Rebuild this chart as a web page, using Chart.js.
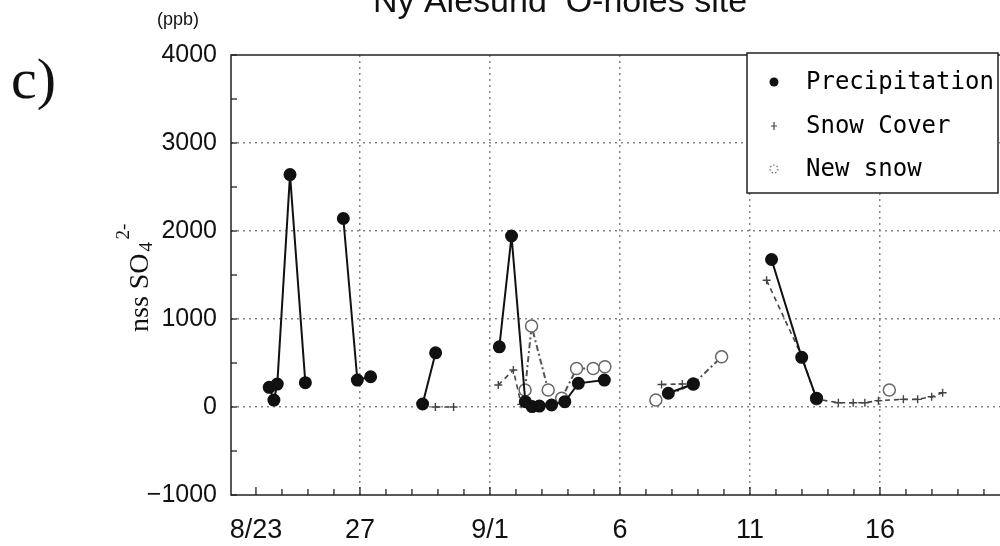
<!DOCTYPE html>
<html><head><meta charset="utf-8">
<script src="https://cdn.jsdelivr.net/npm/chart.js@4"></script>
<style>
html,body{margin:0;padding:0;background:#fff;overflow:hidden;width:1000px;height:546px}
#wrap{position:absolute;left:0;top:0;width:1040px;height:546px}
</style></head><body>
<div id="wrap"><canvas id="c" width="1040" height="546"></canvas></div>
<script>
// Day index: 0 = Aug 23
const tickDays   = [0, 4, 9, 14, 19, 24];
const tickLabels = ['8/23', '27', '9/1', '6', '11', '16'];
const yTicks     = [-1000, 0, 1000, 2000, 3000, 4000];
const seriesNames = ['Precipitation', 'Snow Cover', 'New snow'];

// null entries break the line between sampling periods
const precipDays   = [0.51, 0.69, 0.82, 1.31, 1.90, 2.5, 3.36, 3.90, 4.41, 5.5, 6.41, 6.91, 8.0, 9.36, 9.83, 10.36, 10.62, 10.90, 11.37, 11.88, 12.40, 13.40, 14.5, 15.86, 16.82, 18.5, 19.83, 20.99, 21.56];
const precipValues = [224, 79, 261, 2641, 276, null, 2142, 306, 344, null, 34, 616, null, 684, 1943, 60, 5, 11, 23, 60, 269, 306, null, 156, 261, null, 1676, 564, 99];

const snowDays   = [6.90, 7.60, 8.5, 9.32, 9.90, 10.20, 12.0, 15.60, 16.40, 18.0, 19.64, 20.99, 21.56, 22.40, 22.97, 23.42, 23.94, 24.90, 25.45, 25.99, 26.41];
const snowValues = [0, 0, null, 250, 420, 30, null, 255, 262, null, 1440, 580, 90, 49, 49, 49, 72, 87, 87, 117, 162];

const newDays   = [10.35, 10.60, 11.24, 11.76, 12.33, 12.97, 13.42, 14.5, 15.38, 16.82, 17.91, 19.0, 21.56, 23.0, 24.36];
const newValues = [193, 920, 193, 99, 437, 437, 457, null, 79, 261, 570, null, 95, null, 193];

const toXY = (xs, ys) => xs.map((d, i) => ({x: d, y: ys[i]}));

const fmtY = v => v < 0 ? '\u2212' + Math.abs(v) : String(v);

const framePlugin = {
  id: 'frame',
  afterDatasetsDraw(chart) {
    const {ctx, chartArea: a, scales: {x, y}} = chart;
    ctx.save();
    ctx.strokeStyle = '#222';
    ctx.lineWidth = 1.5;
    ctx.beginPath();
    ctx.moveTo(a.left, a.top); ctx.lineTo(a.right, a.top);
    ctx.lineTo(a.right, a.bottom); ctx.lineTo(a.left, a.bottom); ctx.closePath();
    ctx.stroke();
    ctx.lineWidth = 1.3;
    for (let d = Math.ceil(x.min); d <= x.max; d++) {
      const px = x.getPixelForValue(d);
      const len = tickDays.includes(d) ? 8 : 6;
      ctx.beginPath(); ctx.moveTo(px, a.bottom); ctx.lineTo(px, a.bottom - len); ctx.stroke();
    }
    for (let v = y.min; v <= y.max; v += 500) {
      const py = y.getPixelForValue(v);
      ctx.beginPath(); ctx.moveTo(a.left, py); ctx.lineTo(a.left + 6, py); ctx.stroke();
    }
    ctx.restore();
  }
};

const textPlugin = {
  id: 'texts',
  afterDraw(chart) {
    const {ctx} = chart;
    ctx.save();
    ctx.fillStyle = '#111';
    // cut-off title
    ctx.font = '34px "Liberation Sans", Arial, sans-serif';
    ctx.textAlign = 'center'; ctx.textBaseline = 'alphabetic';
    ctx.fillText('Ny Alesund  O-holes site', 560, 12);
    // unit
    ctx.font = '18px "Liberation Sans", Arial, sans-serif';
    ctx.textAlign = 'left';
    ctx.fillText('(ppb)', 157, 25);
    // panel letter
    ctx.font = '58px "Liberation Serif", "Times New Roman", serif';
    ctx.fillText('c)', 11, 98);
    // y axis title with sub/superscript
    ctx.translate(148, 332);
    ctx.rotate(-Math.PI / 2);
    ctx.font = '28px "Liberation Serif", "Times New Roman", serif';
    ctx.textAlign = 'left';
    const w = ctx.measureText('nss SO').width;
    ctx.fillText('nss SO', 0, 0);
    ctx.font = '19px "Liberation Serif", "Times New Roman", serif';
    ctx.fillText('4', w + 2, 4);
    ctx.fillText('2-', w + 14, -19);
    ctx.restore();

    // legend
    ctx.save();
    const bx = 747, by = 53, bw = 251, bh = 140;
    ctx.fillStyle = '#fff';
    ctx.fillRect(bx, by, bw, bh);
    ctx.strokeStyle = '#222'; ctx.lineWidth = 1.5;
    ctx.strokeRect(bx, by, bw, bh);
    const rows = [82, 126, 169];
    ctx.font = '24px "DejaVu Sans Mono", monospace';
    ctx.fillStyle = '#000';
    ctx.textAlign = 'left'; ctx.textBaseline = 'middle';
    chart.data.datasets.forEach((ds, i) => {
      const cy = rows[i], cx = 774;
      ctx.save();
      ctx.strokeStyle = ds.pointBorderColor || ds.borderColor;
      ctx.fillStyle = ds.pointBackgroundColor;
      ctx.lineWidth = 1.2;
      if (ds.pointStyle === 'cross') {
        ctx.beginPath(); ctx.moveTo(cx - 3, cy); ctx.lineTo(cx + 3, cy);
        ctx.moveTo(cx, cy - 4); ctx.lineTo(cx, cy + 4); ctx.stroke();
      } else if (i === 0) {
        ctx.beginPath(); ctx.arc(cx, cy, 4.5, 0, Math.PI * 2); ctx.fill();
      } else {
        ctx.setLineDash([1.5, 2]);
        ctx.beginPath(); ctx.arc(cx, cy, 4, 0, Math.PI * 2); ctx.stroke();
      }
      ctx.restore();
      ctx.fillText(ds.label, 806, cy + 1);
    });
    ctx.restore();
  }
};

new Chart(document.getElementById('c'), {
  type: 'line',
  data: {
    datasets: [
      {
        label: seriesNames[0], data: toXY(precipDays, precipValues),
        borderColor: '#111', borderWidth: 2, spanGaps: false,
        pointStyle: 'circle', pointRadius: 5.5, pointBackgroundColor: '#111', pointBorderColor: '#111', order: 1
      },
      {
        label: seriesNames[1], data: toXY(snowDays, snowValues),
        borderColor: '#444', borderWidth: 1.6, borderDash: [5, 4], spanGaps: false,
        pointStyle: 'cross', pointRadius: 4, pointBorderWidth: 1.4, pointBackgroundColor: '#444', pointBorderColor: '#444', order: 3
      },
      {
        label: seriesNames[2], data: toXY(newDays, newValues),
        borderColor: '#555', borderWidth: 2, borderDash: [6, 3, 2, 3], spanGaps: false,
        pointStyle: 'circle', pointRadius: 6, pointBorderWidth: 1.5, pointBackgroundColor: '#fff', pointBorderColor: '#666', order: 2
      }
    ]
  },
  options: {
    responsive: false, animation: false, devicePixelRatio: 1,
    layout: {padding: {left: 0, top: 55, right: 29, bottom: 0}},
    plugins: {legend: {display: false}, tooltip: {enabled: false}, title: {display: false}},
    scales: {
      x: {
        type: 'linear', min: -0.96, max: 29.04,
        afterBuildTicks: s => { s.ticks = tickDays.map(v => ({value: v})); },
        afterFit: s => { s.height = 51; },
        ticks: {
          autoSkip: false, maxRotation: 0, padding: 19, color: '#111',
          font: {size: 27, family: '"Liberation Sans", Arial, sans-serif'},
          callback: (v, i) => tickLabels[i]
        },
        grid: {
          drawTicks: false, lineWidth: 1.5,
          color: c => (c.tick && c.tick.value === 0) ? 'rgba(0,0,0,0)' : '#888'
        },
        border: {display: false, dash: [2, 4]}
      },
      y: {
        type: 'linear', min: -1000, max: 4000,
        afterBuildTicks: s => { s.ticks = yTicks.map(v => ({value: v})); },
        afterFit: s => { s.width = 231; },
        ticks: {
          padding: 14, color: '#111',
          font: {size: 25, family: '"Liberation Sans", Arial, sans-serif'},
          callback: v => fmtY(v)
        },
        grid: {
          drawTicks: false, lineWidth: 1.5,
          color: c => (c.tick && (c.tick.value === -1000 || c.tick.value === 4000)) ? 'rgba(0,0,0,0)' : '#888'
        },
        border: {display: false, dash: [2, 4]}
      }
    }
  },
  plugins: [framePlugin, textPlugin]
});
</script>
</body></html>
